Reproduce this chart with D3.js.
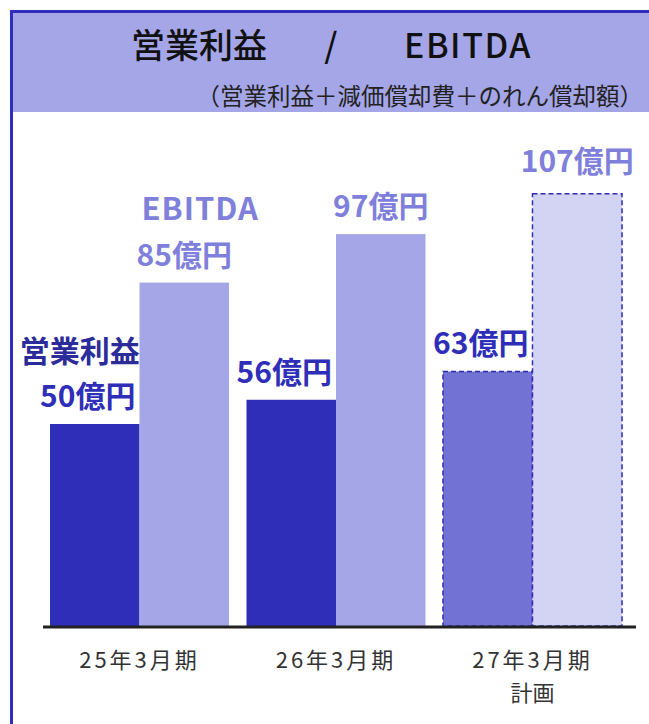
<!DOCTYPE html>
<html>
<head>
<meta charset="utf-8">
<script src="https://cdn.jsdelivr.net/npm/d3@7"></script>
<style>
  body { margin: 0; background: #fff; }
  text { font-family: "Noto Sans CJK JP", "Noto Sans", sans-serif; }
</style>
</head>
<body>
<div id="canvas"></div>
<script>
"use strict"

/* Data */
let periods = ["25年3月期", "26年3月期", "27年3月期"];
let periodSub = ["", "", "計画"];
let opIncome = [50, 56, 63];
let ebitda = [85, 97, 107];
let isPlan = [false, false, true];

/* Drawing size */
let svgWidth = 649;
let svgHeight = 724;
let baseY = 626;

let svg = d3.select("#canvas")
    .append("svg")
    .attr("width", svgWidth)
    .attr("height", svgHeight);

/* Header band and frame */
svg.append("rect")
    .attr("x", 11).attr("y", 11)
    .attr("width", svgWidth - 11).attr("height", 101)
    .attr("fill", "#a5a6e8");
svg.append("line")
    .attr("x1", 11.5).attr("y1", 10).attr("x2", 11.5).attr("y2", svgHeight)
    .attr("stroke", "#2e2eb8").attr("stroke-width", 3);
svg.append("line")
    .attr("x1", 10).attr("y1", 11.5).attr("x2", svgWidth).attr("y2", 11.5)
    .attr("stroke", "#2e2eb8").attr("stroke-width", 3);

/* Titles */
let titleParts = [["営業利益", 199], ["/", 331], ["EBITDA", 468]];
titleParts.forEach(function (t) {
    svg.append("text")
        .attr("x", t[1]).attr("y", 58)
        .attr("text-anchor", "middle")
        .attr("font-size", 34)
        .attr("font-weight", 500)
        .attr("letter-spacing", t[0] == "EBITDA" ? 1.5 : 0)
        .attr("fill", "#111")
        .text(t[0]);
});
svg.append("text")
    .attr("x", 643).attr("y", 105)
    .attr("text-anchor", "end")
    .attr("font-size", 23.5)
    .attr("fill", "#222")
    .text("（営業利益＋減価償却費＋のれん償却額）");

/* Scales */
let xScale = d3.scaleBand()
    .domain(periods)
    .range([50, 622])
    .paddingInner(0.089);

let xInner = d3.scaleBand()
    .domain(["op", "ebitda"])
    .range([0, xScale.bandwidth()]);

let yScale = d3.scaleLinear()
    .domain([0, 107])
    .range([baseY, baseY - 107 * 4.04]);

/* Bars */
let rows = periods.map(function (p, i) {
    return { period: p, op: opIncome[i], ebitda: ebitda[i], plan: isPlan[i] };
});

let groups = svg.selectAll("g.group")
    .data(rows)
    .join("g")
    .attr("class", "group")
    .attr("transform", function (d) { return "translate(" + xScale(d.period) + ",0)"; });

groups.append("rect")
    .attr("x", xInner("op"))
    .attr("y", function (d) { return yScale(d.op); })
    .attr("width", xInner.bandwidth())
    .attr("height", function (d) { return baseY - yScale(d.op); })
    .attr("fill", function (d) { return d.plan ? "#7272d4" : "#2e2eb8"; })
    .attr("stroke", function (d) { return d.plan ? "#2e2eb8" : "none"; })
    .attr("stroke-width", 1.5)
    .attr("stroke-dasharray", "5,3");

groups.append("rect")
    .attr("x", xInner("ebitda"))
    .attr("y", function (d) { return yScale(d.ebitda); })
    .attr("width", xInner.bandwidth())
    .attr("height", function (d) { return baseY - yScale(d.ebitda); })
    .attr("fill", function (d) { return d.plan ? "#d3d3f3" : "#a5a6e8"; })
    .attr("stroke", function (d) { return d.plan ? "#2e2eb8" : "none"; })
    .attr("stroke-width", 1.5)
    .attr("stroke-dasharray", "5,3");

/* Value labels */
groups.append("text")
    .attr("x", xInner("op") + xInner.bandwidth() / 2 - 7)
    .attr("y", function (d) { return yScale(d.op) - 17; })
    .attr("text-anchor", "middle")
    .attr("font-size", 30)
    .attr("font-weight", 700)
    .attr("fill", "#2e2eb8")
    .text(function (d) { return d.op + "億円"; });

groups.append("text")
    .attr("x", xInner("ebitda") + xInner.bandwidth() / 2)
    .attr("y", function (d) { return yScale(d.ebitda) - (d.plan ? 22 : 17); })
    .attr("text-anchor", "middle")
    .attr("font-size", 30)
    .attr("font-weight", 700)
    .attr("fill", "#7f80dc")
    .text(function (d) { return d.ebitda + "億円"; });

/* Series names beside the first group */
svg.append("text")
    .attr("x", xScale(periods[0]) + xInner("op") + xInner.bandwidth() / 2 - 15)
    .attr("y", yScale(opIncome[0]) - 62)
    .attr("text-anchor", "middle")
    .attr("font-size", 30)
    .attr("font-weight", 700)
    .attr("fill", "#2b2b99")
    .text("営業利益");

svg.append("text")
    .attr("x", xScale(periods[0]) + xInner("ebitda") + xInner.bandwidth() / 2 + 16)
    .attr("y", yScale(ebitda[0]) - 63)
    .attr("text-anchor", "middle")
    .attr("font-size", 31)
    .attr("font-weight", 700)
    .attr("letter-spacing", 1)
    .attr("fill", "#7f80dc")
    .text("EBITDA");

/* Axis line */
svg.append("line")
    .attr("x1", 43).attr("x2", 636)
    .attr("y1", baseY + 1).attr("y2", baseY + 1)
    .attr("stroke", "#222")
    .attr("stroke-width", 3);

/* Category labels */
periods.forEach(function (p, i) {
    let cx = xScale(p) + xScale.bandwidth() / 2;
    svg.append("text")
        .attr("x", cx).attr("y", 668)
        .attr("text-anchor", "middle")
        .attr("font-size", 22)
        .attr("letter-spacing", 3)
        .attr("fill", "#333")
        .text(p);
    if (periodSub[i] != "") {
        svg.append("text")
            .attr("x", cx).attr("y", 701)
            .attr("text-anchor", "middle")
            .attr("font-size", 22)
            .attr("fill", "#333")
            .text(periodSub[i]);
    }
});
</script>
</body>
</html>
